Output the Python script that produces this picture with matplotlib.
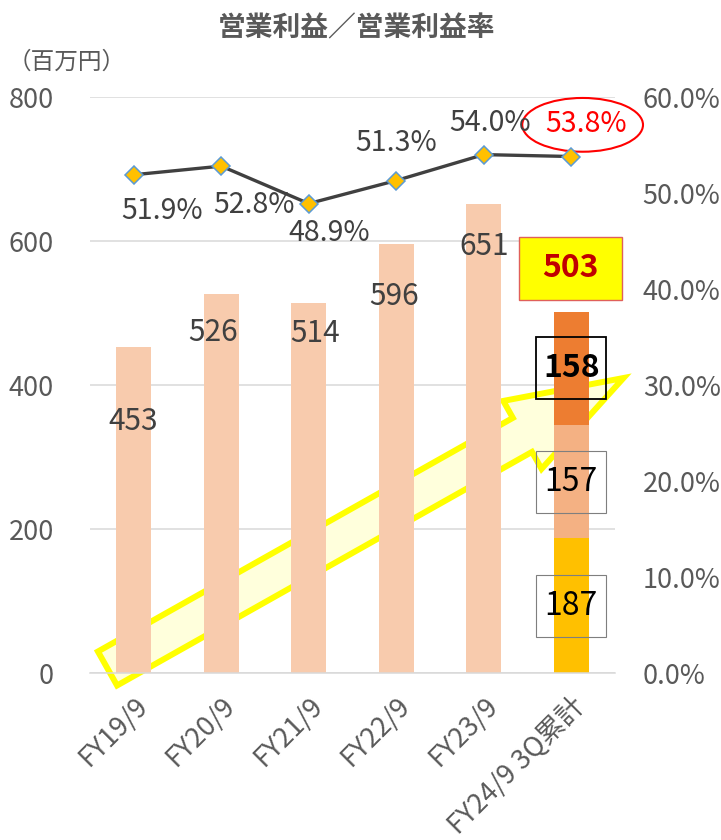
import numpy as np
import matplotlib
matplotlib.use('Agg')
import matplotlib.pyplot as plt
from matplotlib.patches import FancyArrow, Rectangle, Ellipse
from matplotlib.transforms import IdentityTransform

plt.rcParams['font.family'] = ['Noto Sans CJK JP', 'DejaVu Sans']

#______data
years = ['FY19/9', 'FY20/9', 'FY21/9', 'FY22/9', 'FY23/9', 'FY24/9 3Q累計']
profit = [453, 526, 514, 596, 651]
q_profit = [187, 157, 158]          # 1Q, 2Q, 3Q of FY24/9
q_total_label = 503
margin = [51.9, 52.8, 48.9, 51.3, 54.0, 53.8]

# label offsets (pixels) from bar top / line point
bar_lab_dx = [-1, -8, 6, -2, 0]
bar_lab_dy = [-75, -38, -31, -53, -42]
line_lab_dx = [28, 33, 20, 0, 6, 15]
line_lab_dy = [-36, -39, -29, 38, 32, 33]

gray = '#595959'
dark = '#404040'
PX = 0.72  # points per pixel at dpi 100

fig = plt.figure(figsize=(7.21, 8.4), dpi=100)
ax = fig.add_axes([90 / 721, 1 - 673 / 840, 525 / 721, 576 / 840])
x = np.arange(len(years))

# bars
ax.bar(x[:5], profit, width=0.4, color='#F8CBAD', zorder=2)
q_colors = ['#FFC000', '#F4B183', '#ED7D31']
bottom = 0
centers = []
for v, c in zip(q_profit, q_colors):
    ax.bar(x[5], v, width=0.4, bottom=bottom, color=c, zorder=2)
    centers.append(bottom + v / 2)
    bottom += v

ax.set_xlim(-0.5, 5.5)
ax.set_ylim(0, 800)
ax.set_yticks(np.arange(0, 801, 200))
ax.yaxis.grid(True, color='#D9D9D9', lw=1.1, zorder=0)
ax.set_axisbelow(True)
for s in ['top', 'left', 'right']:
    ax.spines[s].set_visible(False)
ax.spines['bottom'].set_color('#D9D9D9')
ax.spines['bottom'].set_linewidth(1.1)
ax.tick_params(axis='y', length=0, pad=26, labelsize=19.5, labelcolor=gray)
ax.set_xticks(x)
ax.set_xticklabels(years, rotation=45, ha='right', va='top', rotation_mode='anchor')
ax.tick_params(axis='x', length=0, pad=14, labelsize=19.5, labelcolor=gray)

# big arrow (behind bars)
arrow = FancyArrow(107.5, 840 - 668.5, 516, 668.5 - 378, width=39, head_width=78,
                   head_length=116, length_includes_head=True,
                   transform=IdentityTransform(), facecolor='#FFFFDC',
                   edgecolor='#FFFF00', lw=4.3, joinstyle='miter', zorder=1, clip_on=False)
ax.add_patch(arrow)

# bar labels
for i, v in enumerate(profit):
    ax.annotate(str(v), (x[i], v), xytext=(bar_lab_dx[i] * PX, bar_lab_dy[i] * PX),
                textcoords='offset points', ha='center', va='center',
                fontsize=21.5, color=dark, zorder=4)

# quarter labels with boxes
box_edge = ['#7F7F7F', '#7F7F7F', 'black']
box_lw = [0.8, 0.8, 1.3]
for k, v in enumerate(q_profit):
    ax.add_patch(Rectangle((x[5] - 0.4, centers[k] - 43), 0.8, 86, facecolor='none',
                           edgecolor=box_edge[k], lw=box_lw[k], zorder=3, clip_on=False))
    ax.text(x[5], centers[k], str(v), ha='center', va='center', fontsize=23,
            color='black', fontweight='bold' if k == 2 else 'normal', zorder=4)

ax.add_patch(Rectangle((x[5] - 0.595, bottom + 16), 1.17, 87, facecolor='#FFFF00',
                       edgecolor='#E0605A', lw=1, zorder=3, clip_on=False))
ax.text(x[5] - 0.01, bottom + 60, str(q_total_label), ha='center', va='center',
        fontsize=23, color='#C00000', fontweight='bold', zorder=4)

# margin line
ax2 = ax.twinx()
m = np.array(margin) / 100
ax2.plot(x, m, color=dark, lw=2.4, marker='D', markersize=9.5,
         markerfacecolor='#FFC000', markeredgecolor='#5B9BD5', markeredgewidth=1.1)
ax2.set_ylim(0, 0.6)
ax2.set_yticks(np.arange(0, 0.61, 0.1))
ax2.set_yticklabels(['{:.1f}%'.format(t * 100) for t in np.arange(0, 0.61, 0.1)])
ax2.tick_params(axis='y', length=0, pad=20, labelsize=19.5, labelcolor=gray)
for s in ['top', 'left', 'right', 'bottom']:
    ax2.spines[s].set_visible(False)

for i, v in enumerate(margin):
    col = 'red' if i == 5 else dark
    ax2.annotate('{:.1f}%'.format(v), (x[i], v / 100),
                 xytext=(line_lab_dx[i] * PX, line_lab_dy[i] * PX),
                 textcoords='offset points', ha='center', va='center',
                 fontsize=20.5, color=col)

ax2.add_patch(Ellipse((x[5] + 0.13, 0.571), 1.38, 0.056, facecolor='none',
                      edgecolor='red', lw=1.5, clip_on=False))

fig.text(357 / 721, 1 - 28 / 840, '営業利益／営業利益率', ha='center', va='center',
         fontsize=20, fontweight='bold', color=gray)
fig.text(8 / 721, 1 - 62 / 840, '（百万円）', ha='left', va='center', fontsize=17, color=gray)

fig.savefig('out.png', dpi=100)
